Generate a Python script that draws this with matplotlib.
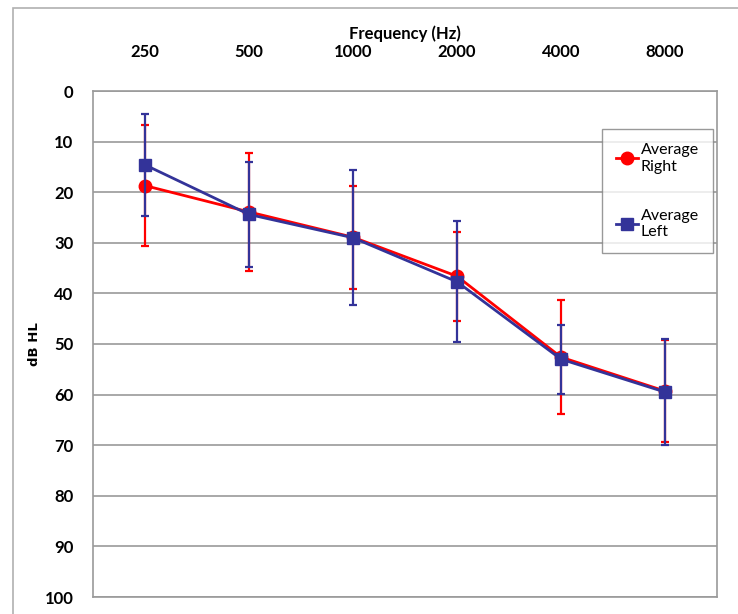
import matplotlib.pyplot as plt
import matplotlib.patches as mpatches
from matplotlib.lines import Line2D
import numpy as np

# Audiogram averages (dB HL) with standard deviations
frequencies = ['250', '500', '1000', '2000', '4000', '8000']
right_mean = [18.7, 23.9, 28.9, 36.6, 52.6, 59.3]
right_sd = [11.9, 11.6, 10.2, 8.8, 11.3, 10.0]
left_mean = [14.6, 24.4, 29.0, 37.7, 53.0, 59.5]
left_sd = [10.1, 10.3, 13.3, 12.0, 6.8, 10.5]

plt.rcParams['font.family'] = ['Lato', 'DejaVu Sans']

fig = plt.figure(figsize=(7.38, 6.14), dpi=100)
W, H = 738, 614
ax = fig.add_axes([93 / W, 1 - 597 / H, (717 - 93) / W, (597 - 91) / H])

# outer chart frame
fig.patches.append(mpatches.Rectangle((13 / W, -0.1), 1.2, 1 - 8 / H + 0.1,
                                      transform=fig.transFigure, fill=False,
                                      edgecolor='#b0b0b0', linewidth=1.2))

x = np.arange(len(frequencies))
red = '#ff0000'
blue = '#333399'

ax.errorbar(x, right_mean, yerr=right_sd, color=red, marker='o', markersize=9,
            linewidth=2, elinewidth=1.6, capsize=3, capthick=1.6, zorder=3)
ax.errorbar(x, left_mean, yerr=left_sd, color=blue, marker='s', markersize=9,
            linewidth=2, elinewidth=1.6, capsize=3, capthick=1.6, zorder=4)

ax.set_xlim(-0.5, len(frequencies) - 0.5)
ax.set_ylim(100, 0)
ax.set_yticks(np.arange(0, 101, 10))
ax.set_xticks(x)
ax.set_xticklabels(frequencies)
ax.xaxis.tick_top()
ax.xaxis.set_label_position('top')
ax.tick_params(length=0, labelsize=12)
ax.tick_params(axis='x', pad=22)
ax.tick_params(axis='y', pad=14)
for lbl in ax.get_xticklabels() + ax.get_yticklabels():
    lbl.set_fontweight('bold')

ax.set_xlabel('Frequency (Hz)', fontsize=12, fontweight='bold', labelpad=4)
fig.text(35 / W, 1 - 344 / H, 'dB HL', rotation=90, ha='center', va='center',
         fontsize=9.5, fontweight='bold', family='DejaVu Sans')

ax.grid(axis='y', color='#9a9a9a', linewidth=1.2)
ax.set_axisbelow(True)
for s in ax.spines.values():
    s.set_color('#9a9a9a')
    s.set_linewidth(1.2)

handles = [Line2D([], [], color=red, marker='o', markersize=9, linewidth=2),
           Line2D([], [], color=blue, marker='s', markersize=9, linewidth=2)]
leg = ax.legend(handles, ['Average\nRight', 'Average\nLeft'],
                loc='upper right', bbox_to_anchor=(0.994, 0.925), fontsize=11.5,
                frameon=True, fancybox=False, edgecolor='#808080',
                handlelength=1.4, labelspacing=2.2, borderpad=0.9, handletextpad=0.15,
                borderaxespad=0)
leg.get_frame().set_linewidth(1)

fig.savefig('out.png', dpi=100)
